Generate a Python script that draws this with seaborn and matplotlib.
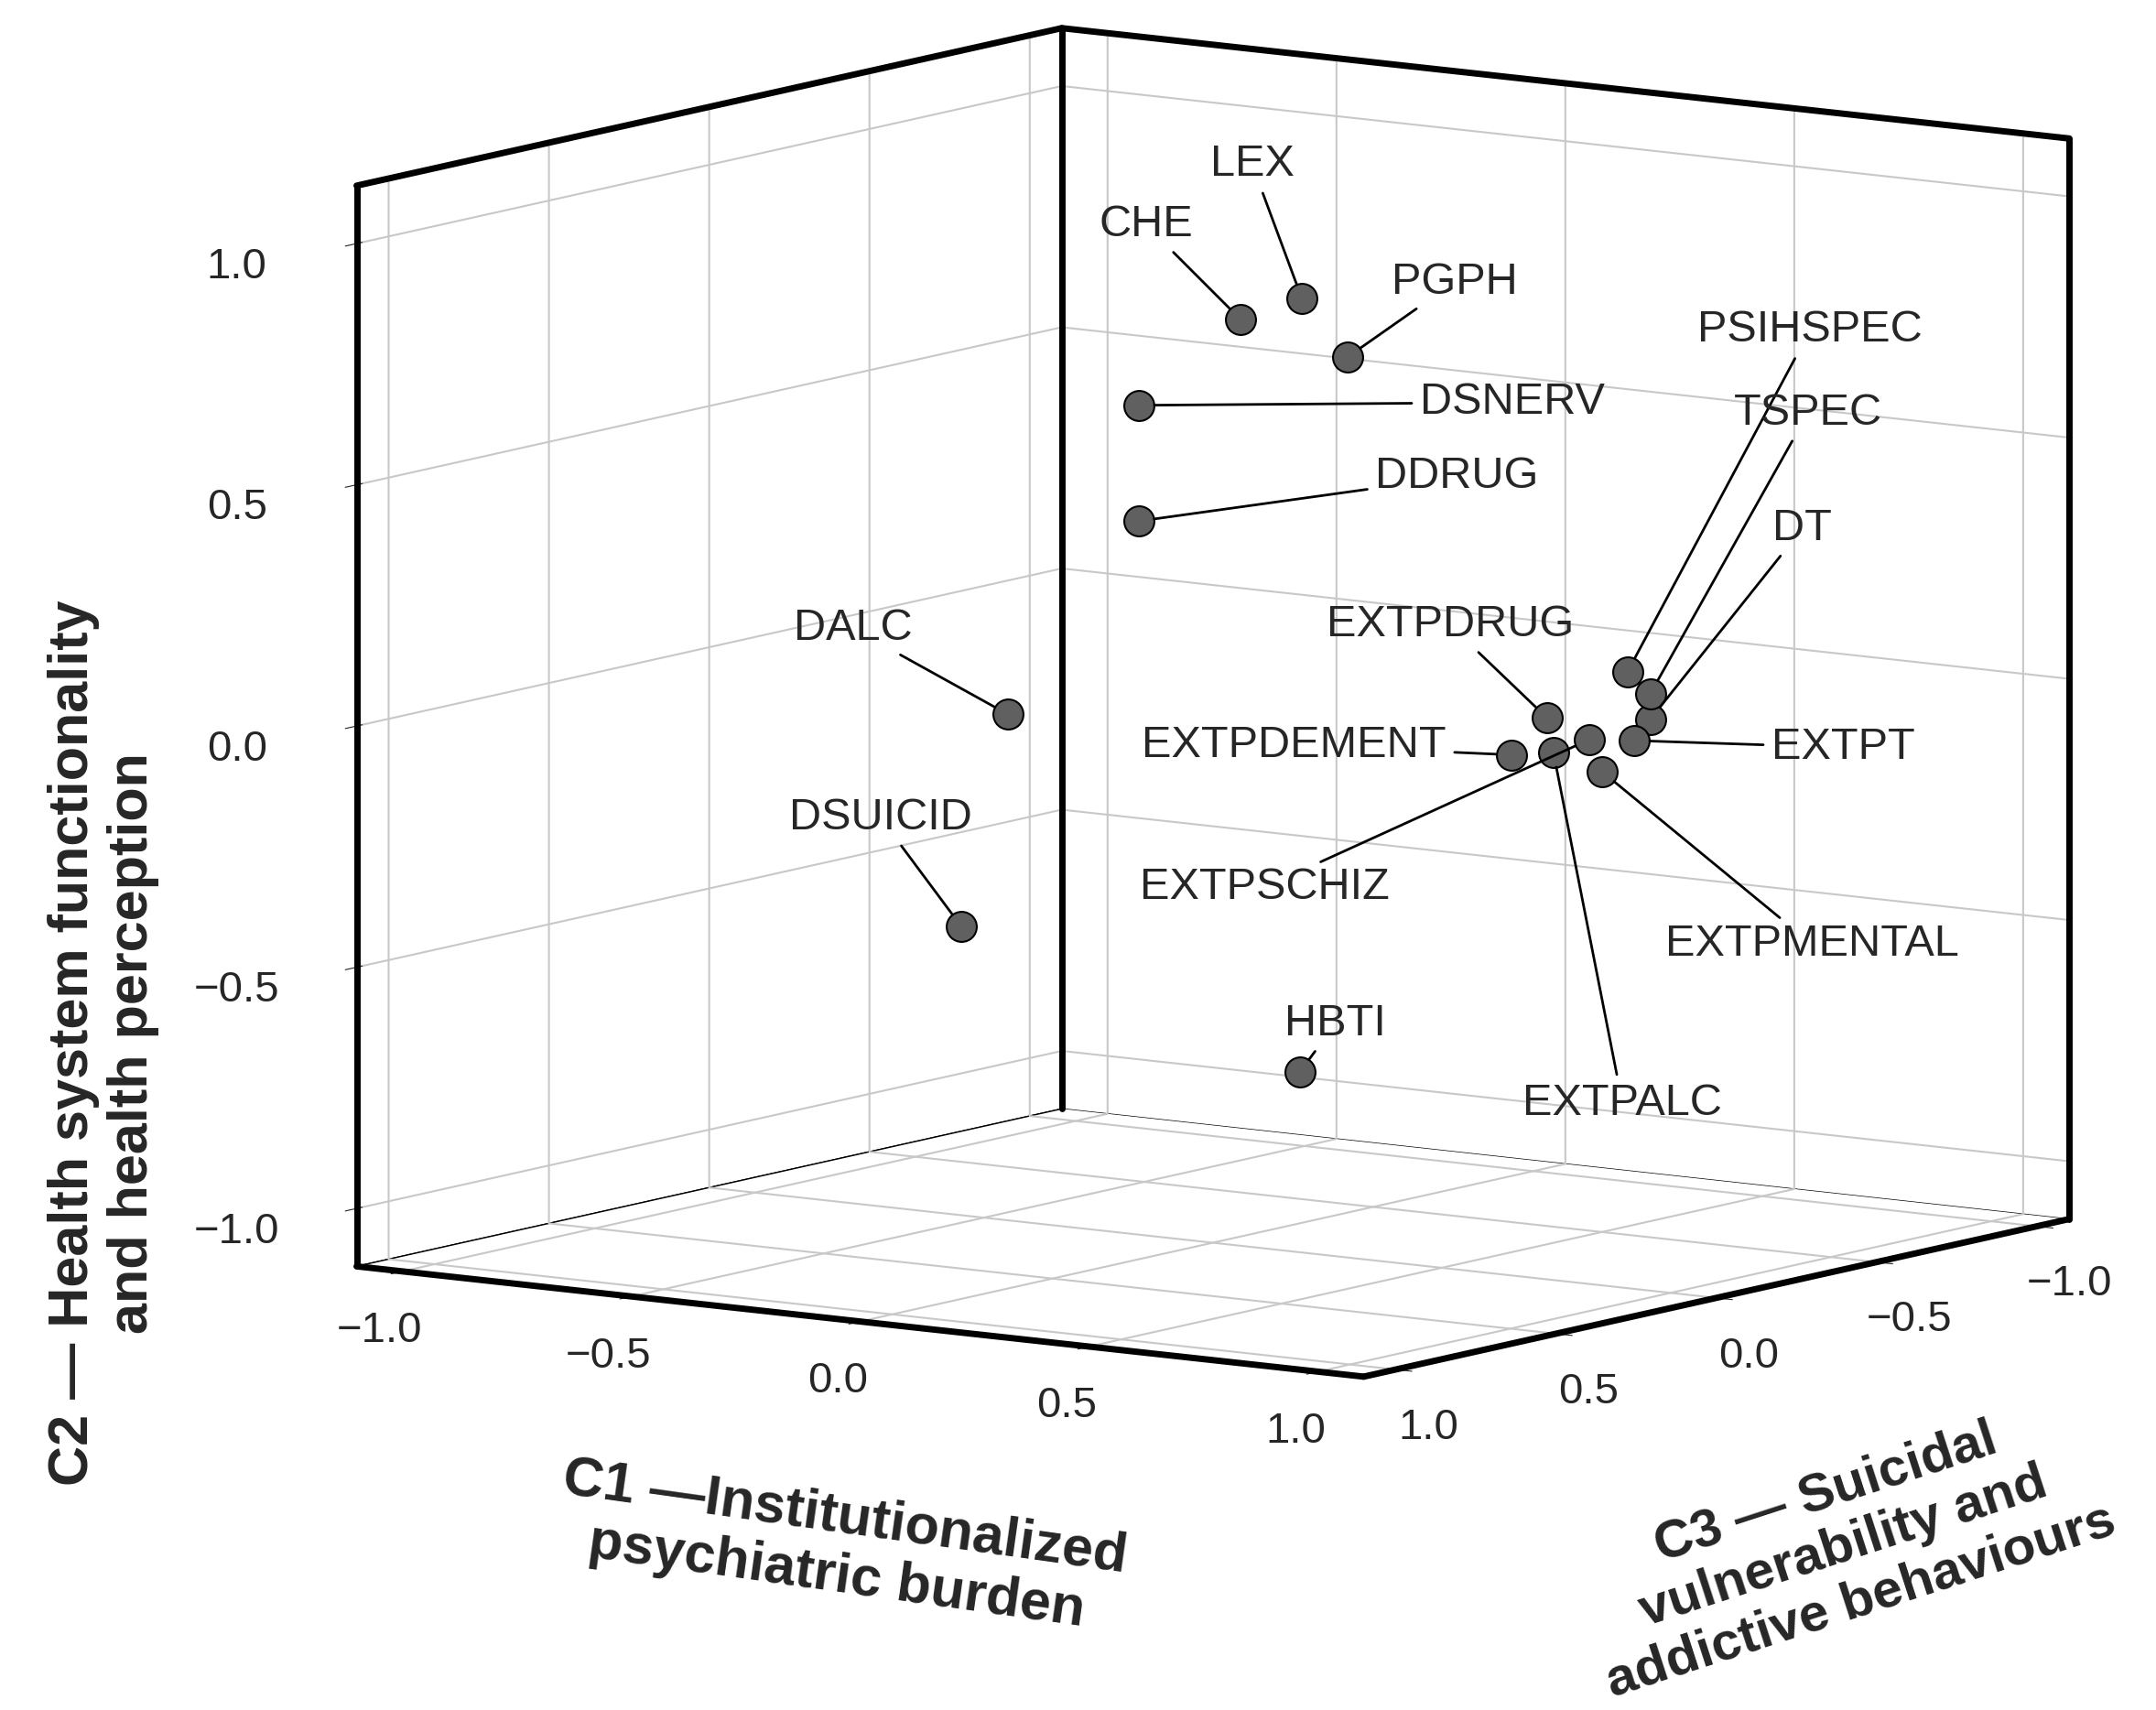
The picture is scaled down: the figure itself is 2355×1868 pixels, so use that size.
import numpy as np
import pandas as pd
import matplotlib
matplotlib.use("Agg")
import matplotlib.pyplot as plt
import seaborn as sns
from mpl_toolkits.mplot3d import proj3d

sns.set_style("white")
plt.rcParams['font.family'] = ['Liberation Sans', 'DejaVu Sans']

# component scores
labels = ["CHE", "LEX", "PGPH", "DSNERV", "DDRUG", "DALC", "DSUICID", "HBTI",
          "EXTPDRUG", "EXTPDEMENT", "EXTPSCHIZ", "EXTPALC", "EXTPMENTAL",
          "EXTPT", "PSIHSPEC", "TSPEC", "DT"]
c1 = [0.20, 0.30, 0.40, 0.00, 0.00, -0.30, -0.20, 0.40,
      0.80, 0.75, 0.85, 0.80, 0.90, 0.90, 0.85, 0.90, 0.90]
c2 = [0.845, 0.89, 0.78, 0.65, 0.41, -0.025, -0.41, -0.68,
      0.066, -0.01, 0.017, -0.008, -0.04, 0.01, 0.14, 0.10, 0.047]
c3 = [0.20, 0.15, 0.15, 0.23, 0.23, 0.21, 0.50, 0.30,
      0.10, 0.14, 0.04, 0.08, 0.07, -0.03, -0.08, -0.08, -0.08]
# label offsets (pixels in a 1560-wide view, y up)
lab_dx = [-68, -36, 77, 270, 230, -112, -58, 26, -70, -157, -235, 50, 152, 151, 132, 114, 110]
lab_dy = [68, 97, 54, 2, 32, 62, 78, 35, 67, 7, -107, -254, -125, -5, 247, 203, 138]

df = pd.DataFrame({"label": labels, "C1": c1, "C2": c2, "C3": c3})

fig = plt.figure(figsize=(23.55, 18.68), dpi=100)
ax = fig.add_axes([0.062, 0.086, 0.98, 0.98], projection='3d', proj_type='ortho')
ax.computed_zorder = False
ax.view_init(elev=9, azim=35)
lim = 1.1
zl = 1.12
ax.set_xlim(-lim, lim)   # C3
ax.set_ylim(-lim, lim)   # C1
ax.set_zlim(-zl, zl)     # C2
ax.set_box_aspect((1, 1, 0.89), zoom=1.19)

ticks = [-1.0, -0.5, 0.0, 0.5, 1.0]
ticklab = ["\u22121.0", "\u22120.5", "0.0", "0.5", "1.0"]
for axis, setter, lsetter in [(ax.xaxis, ax.set_xticks, ax.set_xticklabels),
                              (ax.yaxis, ax.set_yticks, ax.set_yticklabels),
                              (ax.zaxis, ax.set_zticks, ax.set_zticklabels)]:
    setter(ticks)
    lsetter(ticklab, fontsize=34)
    axis.set_pane_color((1, 1, 1, 1))
    axis.pane.set_edgecolor("black")
    axis._axinfo["grid"]["color"] = "#c8c8c8"
    axis._axinfo["grid"]["linewidth"] = 1.5
    axis.line.set_linewidth(3)
ax.tick_params(axis='z', pad=40)
ax.tick_params(axis='x', pad=14)
ax.tick_params(axis='y', pad=14)

# thick box edges
k = dict(color="black", lw=5, zorder=5, clip_on=False)
ax.plot([-lim, -lim], [-lim, -lim], [-zl, zl], **k)
ax.plot([lim, lim], [-lim, -lim], [-zl, zl], **k)
ax.plot([-lim, -lim], [lim, lim], [-zl, zl], **k)
ax.plot([-lim, lim], [-lim, -lim], [zl, zl], **k)
ax.plot([-lim, -lim], [-lim, lim], [zl, zl], **k)
ax.plot([lim, lim], [-lim, lim], [-zl, -zl], **k)
ax.plot([-lim, lim], [lim, lim], [-zl, -zl], **k)

ax.scatter(df.C3, df.C1, df.C2, s=560, c="#606060", edgecolors="black",
           linewidths=1.5, depthshade=False, alpha=1, zorder=10)

fig.canvas.draw()
proj = ax.get_proj()
for i, row in df.iterrows():
    px, py, _ = proj3d.proj_transform(row.C3, row.C1, row.C2, proj)
    ax.annotate(row.label, xy=(px, py), xycoords='data',
                xytext=(lab_dx[i] * 1.087, lab_dy[i] * 1.087), textcoords='offset points',
                ha='center', va='center', fontsize=35, zorder=12,
                arrowprops=dict(arrowstyle='-', color='black', lw=2, shrinkA=4, shrinkB=12))

fig.text(0.048, 0.39, "C2 \u2014 Health system functionality\nand health perception",
         rotation=90, ha='center', va='center', fontsize=44, fontweight='bold')
fig.text(0.39, 0.095, "C1 \u2014Institutionalized\npsychiatric burden",
         rotation=-8, ha='center', va='center', fontsize=44, fontweight='bold')
fig.text(0.855, 0.095, "C3 \u2014 Suicidal\nvulnerability and\naddictive behaviours",
         rotation=18, ha='center', va='center', fontsize=42, fontweight='bold')

fig.savefig("out.png", dpi=100)
